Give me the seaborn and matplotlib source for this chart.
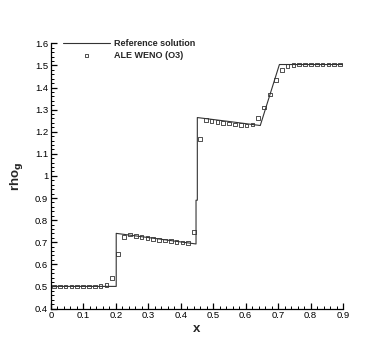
import numpy as np
import pandas as pd
import seaborn as sns
import matplotlib
matplotlib.use("Agg")
import matplotlib.pyplot as plt
from matplotlib.ticker import MultipleLocator, FormatStrFormatter


# reference solution (piecewise)
ref_x = [0.0, 0.201, 0.201, 0.300, 0.447, 0.447, 0.451, 0.451, 0.550, 0.645, 0.704, 0.900]
ref_y = [0.500, 0.500, 0.740, 0.721, 0.692, 0.890, 0.890, 1.264, 1.246, 1.228, 1.504, 1.504]

# ALE WENO (O3) cell values
weno_x = [0.009, 0.027, 0.045, 0.063, 0.081, 0.099, 0.117, 0.135, 0.153, 0.171,
          0.189, 0.207, 0.225, 0.243, 0.261, 0.279, 0.297, 0.315, 0.333, 0.351,
          0.369, 0.387, 0.405, 0.423, 0.441, 0.459, 0.477, 0.495, 0.513, 0.531,
          0.549, 0.567, 0.585, 0.603, 0.621, 0.639, 0.657, 0.675, 0.693, 0.711,
          0.729, 0.747, 0.765, 0.783, 0.801, 0.819, 0.837, 0.855, 0.873, 0.891]
weno_y = [0.500, 0.500, 0.500, 0.500, 0.500, 0.500, 0.500, 0.500, 0.501, 0.506,
          0.539, 0.647, 0.725, 0.735, 0.729, 0.724, 0.720, 0.714, 0.710, 0.707,
          0.704, 0.701, 0.698, 0.695, 0.745, 1.167, 1.253, 1.248, 1.244, 1.240,
          1.237, 1.233, 1.229, 1.228, 1.232, 1.261, 1.310, 1.369, 1.433, 1.479,
          1.497, 1.503, 1.504, 1.504, 1.504, 1.504, 1.504, 1.504, 1.504, 1.504]


sns.set_style("ticks")
plt.rcParams["font.family"] = ["Liberation Sans", "DejaVu Sans"]

fig = plt.figure(figsize=(3.9, 3.47), dpi=100)
ax = fig.add_axes([51 / 390, 38.5 / 347, 292 / 390, 265.2 / 347])

ref_df = pd.DataFrame({"x": ref_x, "rho": ref_y})
weno_df = pd.DataFrame({"x": weno_x, "rho": weno_y})

sns.lineplot(data=ref_df, x="x", y="rho", sort=False, estimator=None,
             color="#333333", linewidth=0.8, ax=ax, label="Reference solution")
sns.scatterplot(data=weno_df, x="x", y="rho", marker="s", s=7,
                facecolor="none", edgecolor="#333333", linewidth=0.6,
                ax=ax, label="ALE WENO (O3)", zorder=3)

ax.set_xlim(0, 0.9)
ax.set_ylim(0.4, 1.6)
ax.xaxis.set_major_locator(MultipleLocator(0.1))
ax.xaxis.set_minor_locator(MultipleLocator(0.02))
ax.yaxis.set_major_locator(MultipleLocator(0.1))
ax.yaxis.set_minor_locator(MultipleLocator(0.02))
ax.xaxis.set_major_formatter(FormatStrFormatter("%g"))
ax.yaxis.set_major_formatter(FormatStrFormatter("%g"))

sns.despine(ax=ax, top=True, right=True)
for spine in ax.spines.values():
    spine.set_linewidth(0.9)
    spine.set_color("black")
ax.tick_params(axis="both", which="major", direction="in", length=4,
               width=0.9, labelsize=6.8, pad=2, colors="black")
ax.tick_params(axis="both", which="minor", direction="in", length=2,
               width=0.7, colors="black")

ax.set_xlabel("x", fontsize=9.5, fontweight="bold", labelpad=2)
ax.set_ylabel(r"rho$_\mathbf{g}$", fontsize=9.5, fontweight="bold")
ax.yaxis.set_label_coords(-0.088, 0.5)

ax.legend(loc="upper left", bbox_to_anchor=(0.041, 1.015), frameon=False,
          prop={"weight": "bold", "size": 6.5},
          handlelength=5.2, handletextpad=0.45, labelspacing=0.3,
          borderpad=0, borderaxespad=0, numpoints=1, scatterpoints=1)

fig.savefig("out.png", dpi=100)
